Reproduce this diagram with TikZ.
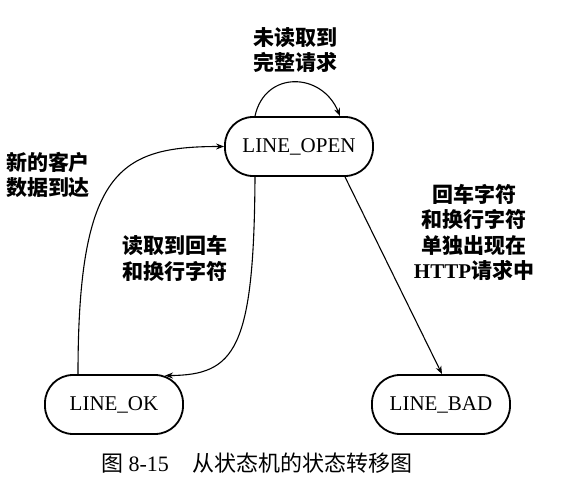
\documentclass[tikz,border=0pt]{standalone}
\usepackage{fontspec}
\setmainfont{Liberation Serif}
\newfontfamily\cjk{Noto Sans CJK SC}
\usetikzlibrary{arrows.meta}
\tikzset{
  state/.style={draw, line width=1.8pt, rectangle, rounded corners=28pt,
    minimum height=59pt, inner sep=0pt, font=\fontsize{21}{24}\selectfont},
  lbl/.style={align=center, inner sep=0pt, font=\cjk\bfseries\fontsize{21}{25.5}\selectfont},
  conn/.style={line width=1.1pt, -{Stealth[length=8pt,width=6pt]}}
}
\begin{document}
\begin{tikzpicture}[x=1pt,y=-1pt]
\useasboundingbox (0,0) rectangle (563,489);
\node[state, minimum width=148pt] (open) at (299,146.5) {LINE\_OPEN};
\node[state, minimum width=138pt] (ok) at (114,404.5) {LINE\_OK};
\node[state, minimum width=138pt] (bad) at (441,404.5) {LINE\_BAD};

\node[lbl] (l1) at (295,50) {未读取到\\完整请求};
\node[lbl] (l2) at (48,175) {新的客户\\数据到达};
\node[lbl] (l3) at (175,258.5) {读取到回车\\和换行字符};
\node[lbl] (l4) at (474,232.5) {回车字符\\和换行字符\\单独出现在\\{\rmfamily\bfseries HTTP}请求中};

\node[inner sep=0pt, font=\fontsize{22}{26}\selectfont] (cap) at (257,463)
  {{\cjk 图} 8-15\hspace{24pt}{\cjk 从状态机的状态转移图}};

% self loop
\draw[conn] ([xshift=-44pt]open.north) .. controls (265,70) and (322,72) .. ([xshift=41pt]open.north);
% LINE_OK -> LINE_OPEN
\draw[conn] ([xshift=-36pt]ok.north) .. controls (78,170) and (120,146.5) .. (open.west);
% LINE_OPEN -> LINE_BAD
\draw[conn] ([xshift=46pt]open.south) -- ([xshift=1pt]bad.north);
% LINE_OPEN -> LINE_OK
\draw[conn] ([xshift=-44pt]open.south) .. controls (254,350) and (235,375) .. ([xshift=51pt,yshift=-1.5pt]ok.north);
\end{tikzpicture}
\end{document}
